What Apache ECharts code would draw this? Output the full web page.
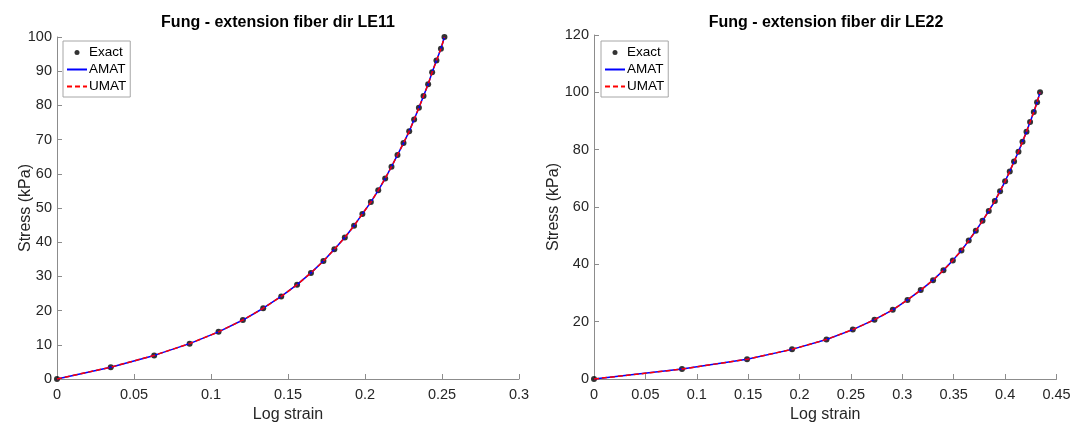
<!DOCTYPE html>
<html>
<head>
<meta charset="utf-8">
<script src="https://cdn.jsdelivr.net/npm/echarts@6/dist/echarts.min.js"></script>
<style>
html,body{margin:0;padding:0;background:#fff;}
#chart{width:1079px;height:428px;}
</style>
</head>
<body>
<div id="chart"></div>
<script>
// ---- data ----
const titles = ['Fung - extension fiber dir LE11', 'Fung - extension fiber dir LE22'];
const seriesNames = ['Exact', 'AMAT', 'UMAT'];
const stress = [0, 3.45, 6.9, 10.34, 13.79, 17.24, 20.69, 24.14, 27.59, 31.03, 34.48, 37.93, 41.38, 44.83, 48.28, 51.72, 55.17, 58.62, 62.07, 65.52, 68.97, 72.41, 75.86, 79.31, 82.76, 86.21, 89.66, 93.1, 96.55, 100];
const strainLE11 = [0, 0.0349, 0.0631, 0.0861, 0.1049, 0.1207, 0.1339, 0.1456, 0.1559, 0.1649, 0.1730, 0.1801, 0.1869, 0.1929, 0.1983, 0.2038, 0.2086, 0.2131, 0.2172, 0.2211, 0.2250, 0.2287, 0.2319, 0.2350, 0.2380, 0.2410, 0.2436, 0.2464, 0.2493, 0.2516];
const strainLE22 = [0, 0.0856, 0.1489, 0.1927, 0.2262, 0.2518, 0.2729, 0.2907, 0.3050, 0.3179, 0.3299, 0.3400, 0.3491, 0.3575, 0.3646, 0.3715, 0.3780, 0.3841, 0.3900, 0.3951, 0.4000, 0.4045, 0.4087, 0.4130, 0.4169, 0.4208, 0.4243, 0.4279, 0.4311, 0.4340];
const xAxisRange = [[0, 0.3, 0.05], [0, 0.45, 0.05]];
const yAxisRange = [[0, 100, 10], [0, 120, 20]];

// ---- chart ----
const FONT = '"Liberation Sans", Arial, Helvetica, sans-serif';
const TXT = '#262626';
const AXC = '#8c8c8c';
const chart = echarts.init(document.getElementById('chart'), null, {renderer: 'canvas'});

function pairs(xs, ys) { return xs.map((x, i) => [x, ys[i]]); }
const strains = [strainLE11, strainLE22];

function xAxis(i) {
  return {
    type: 'value', gridIndex: i,
    min: xAxisRange[i][0], max: xAxisRange[i][1], interval: xAxisRange[i][2],
    name: 'Log strain', nameLocation: 'middle', nameGap: 28, nameMoveOverlap: false,
    nameTextStyle: {fontFamily: FONT, fontSize: 16, color: TXT},
    axisLine: {show: true, onZero: false, lineStyle: {color: AXC, width: 1}},
    axisTick: {show: true, inside: true, length: 5, lineStyle: {color: AXC}},
    axisLabel: {fontFamily: FONT, fontSize: 14.5, color: TXT, margin: 8},
    splitLine: {show: false}
  };
}
function yAxis(i, gap) {
  return {
    type: 'value', gridIndex: i,
    min: yAxisRange[i][0], max: yAxisRange[i][1], interval: yAxisRange[i][2],
    name: 'Stress (kPa)', nameLocation: 'middle', nameGap: gap, nameRotate: 90, nameMoveOverlap: false,
    nameTextStyle: {fontFamily: FONT, fontSize: 16, color: TXT},
    axisLine: {show: true, onZero: false, lineStyle: {color: AXC, width: 1}},
    axisTick: {show: true, inside: true, length: 5, lineStyle: {color: AXC}},
    axisLabel: {fontFamily: FONT, fontSize: 14.5, color: TXT, margin: 5},
    splitLine: {show: false}
  };
}

const series = [];
for (let i = 0; i < 2; i++) {
  const d = pairs(strains[i], stress);
  series.push({
    name: seriesNames[0], type: 'scatter', xAxisIndex: i, yAxisIndex: i,
    data: d, symbol: 'circle', symbolSize: 6, clip: false, z: 2,
    itemStyle: {color: '#000'}
  });
  series.push({
    name: seriesNames[1], type: 'line', xAxisIndex: i, yAxisIndex: i,
    data: d, symbol: 'none', showSymbol: false, clip: false, z: 3,
    lineStyle: {color: '#0000ff', width: 1.5, type: 'solid'},
    itemStyle: {color: '#0000ff'}
  });
  series.push({
    name: seriesNames[2], type: 'line', xAxisIndex: i, yAxisIndex: i,
    data: d, symbol: 'none', showSymbol: false, clip: false, z: 4,
    lineStyle: {color: '#ff0000', width: 1.5, type: [5, 3]},
    itemStyle: {color: '#ff0000'}
  });
}

function legend(left) {
  return {
    left: left, top: 41, orient: 'vertical',
    itemWidth: 20, itemHeight: 5, itemGap: 0,
    padding: [3, 4, 2, 3],
    borderColor: '#a6a6a6', borderWidth: 1, backgroundColor: '#fff',
    textStyle: {fontFamily: FONT, fontSize: 13.5, color: '#000', lineHeight: 17, padding: [0, 0, 0, -3]},
    data: [
      {name: seriesNames[0]},
      {name: seriesNames[1], itemStyle: {opacity: 0}},
      {name: seriesNames[2], itemStyle: {opacity: 0}}
    ],
    selectedMode: false
  };
}

chart.setOption({
  animation: false,
  backgroundColor: '#fff',
  title: [
    {text: titles[0], left: 278, top: 15, textAlign: 'center', padding: 0,
     textStyle: {fontFamily: FONT, fontSize: 16, fontWeight: 'bold', color: '#000'}},
    {text: titles[1], left: 826, top: 15, textAlign: 'center', padding: 0,
     textStyle: {fontFamily: FONT, fontSize: 16, fontWeight: 'bold', color: '#000'}}
  ],
  legend: [legend(63), legend(601)],
  grid: [
    {left: 57, top: 37, width: 462, height: 343},
    {left: 594, top: 35, width: 462.5, height: 345}
  ],
  xAxis: [xAxis(0), xAxis(1)],
  yAxis: [yAxis(0, 23), yAxis(1, 32)],
  series: series
});
</script>
</body>
</html>
